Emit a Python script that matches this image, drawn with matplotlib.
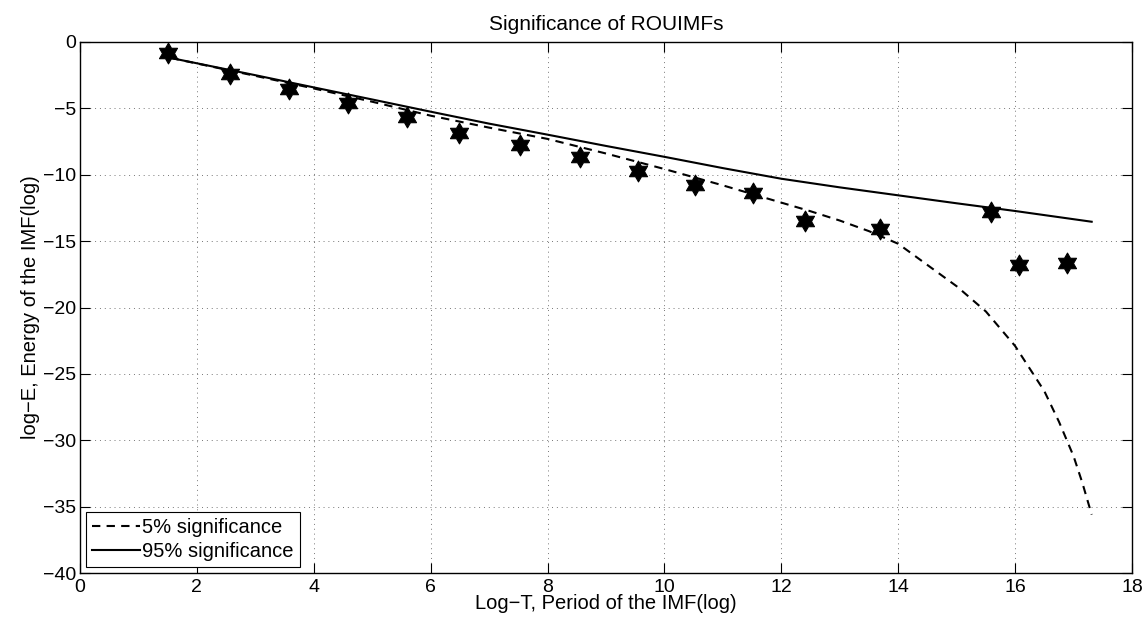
import matplotlib
matplotlib.use("Agg")
import matplotlib.pyplot as plt
from matplotlib.path import Path

plt.rcParams['font.family'] = ['Liberation Sans', 'DejaVu Sans']

# IMF points (log-period, log-energy)
imf_logT = [1.51, 2.57, 3.58, 4.59, 5.59, 6.49, 7.52, 8.56, 9.54, 10.52, 11.51, 12.41, 13.68, 15.58, 16.06, 16.89]
imf_logE = [-0.81, -2.43, -3.56, -4.62, -5.63, -6.83, -7.76, -8.69, -9.69, -10.77, -11.35, -13.46, -14.11, -12.78, -16.80, -16.62]

# 5% significance line
sig5_x = [1.55, 3.0, 4.0, 5.0, 6.0, 7.0, 8.0, 9.0, 10.0, 11.0, 12.0, 12.5, 13.0, 13.5, 14.0, 14.5, 15.0, 15.5, 16.0, 16.5, 16.75, 17.0, 17.15, 17.31]
sig5_y = [-1.2, -2.55, -3.5, -4.5, -5.55, -6.45, -7.3, -8.4, -9.57, -10.8, -12.1, -12.75, -13.45, -14.25, -15.2, -16.8, -18.4, -20.3, -22.9, -26.3, -28.6, -31.2, -33.2, -35.6]

# 95% significance line
sig95_x = [1.55, 3.0, 4.0, 5.0, 6.0, 7.0, 8.0, 9.0, 10.0, 11.0, 12.0, 13.0, 14.0, 15.0, 16.0, 17.31]
sig95_y = [-1.2, -2.5, -3.42, -4.33, -5.25, -6.15, -6.98, -7.83, -8.65, -9.5, -10.3, -10.95, -11.55, -12.15, -12.73, -13.54]

xticks = [0, 2, 4, 6, 8, 10, 12, 14, 16, 18]
yticks = [0, -5, -10, -15, -20, -25, -30, -35, -40]

fig = plt.figure(figsize=(11.48, 6.18), dpi=100)
ax = fig.add_axes([80/1148, 45/618, (1132-80)/1148, (573-42)/618])

hexagram = Path.unit_regular_star(6, 0.577)

ax.plot(sig5_x, sig5_y, 'k--', lw=1.5, dashes=(4, 3), label='5% significance')
ax.plot(sig95_x, sig95_y, 'k-', lw=1.5, label='95% significance')
ax.plot(imf_logT, imf_logE, linestyle='none', marker=hexagram, ms=15,
        color='black', markeredgecolor='black', markeredgewidth=0.8)

ax.set_xlim(0, 18)
ax.set_ylim(-40, 0)
ax.set_xticks(xticks)
ax.set_yticks(yticks)
ax.set_xticklabels([str(t).replace('-', '\u2212') for t in xticks])
ax.set_yticklabels([str(t).replace('-', '\u2212') for t in yticks])
ax.tick_params(direction='in', top=True, right=True, labelsize=14, length=7, width=0.8)
ax.tick_params(axis='x', pad=4)
ax.tick_params(axis='y', pad=3)
ax.grid(True, linestyle=(0, (1, 4)), color='#777777', linewidth=0.7)
for s in ax.spines.values():
    s.set_linewidth(1.0)

ax.set_title('Significance of ROUIMFs', fontsize=15, pad=9)
ax.set_xlabel('Log\u2212T, Period of the IMF(log)', fontsize=14.5, labelpad=-1)
ax.set_ylabel('log\u2212E, Energy of the IMF(log)', fontsize=14.5, labelpad=2)

leg = ax.legend(loc='lower left', fontsize=14.5, fancybox=False, framealpha=1,
                edgecolor='black', handlelength=2.4, borderaxespad=0.3,
                borderpad=0.3, labelspacing=0.25, handletextpad=0.1)
leg.get_frame().set_linewidth(0.8)

fig.savefig('out.png', dpi=100)
